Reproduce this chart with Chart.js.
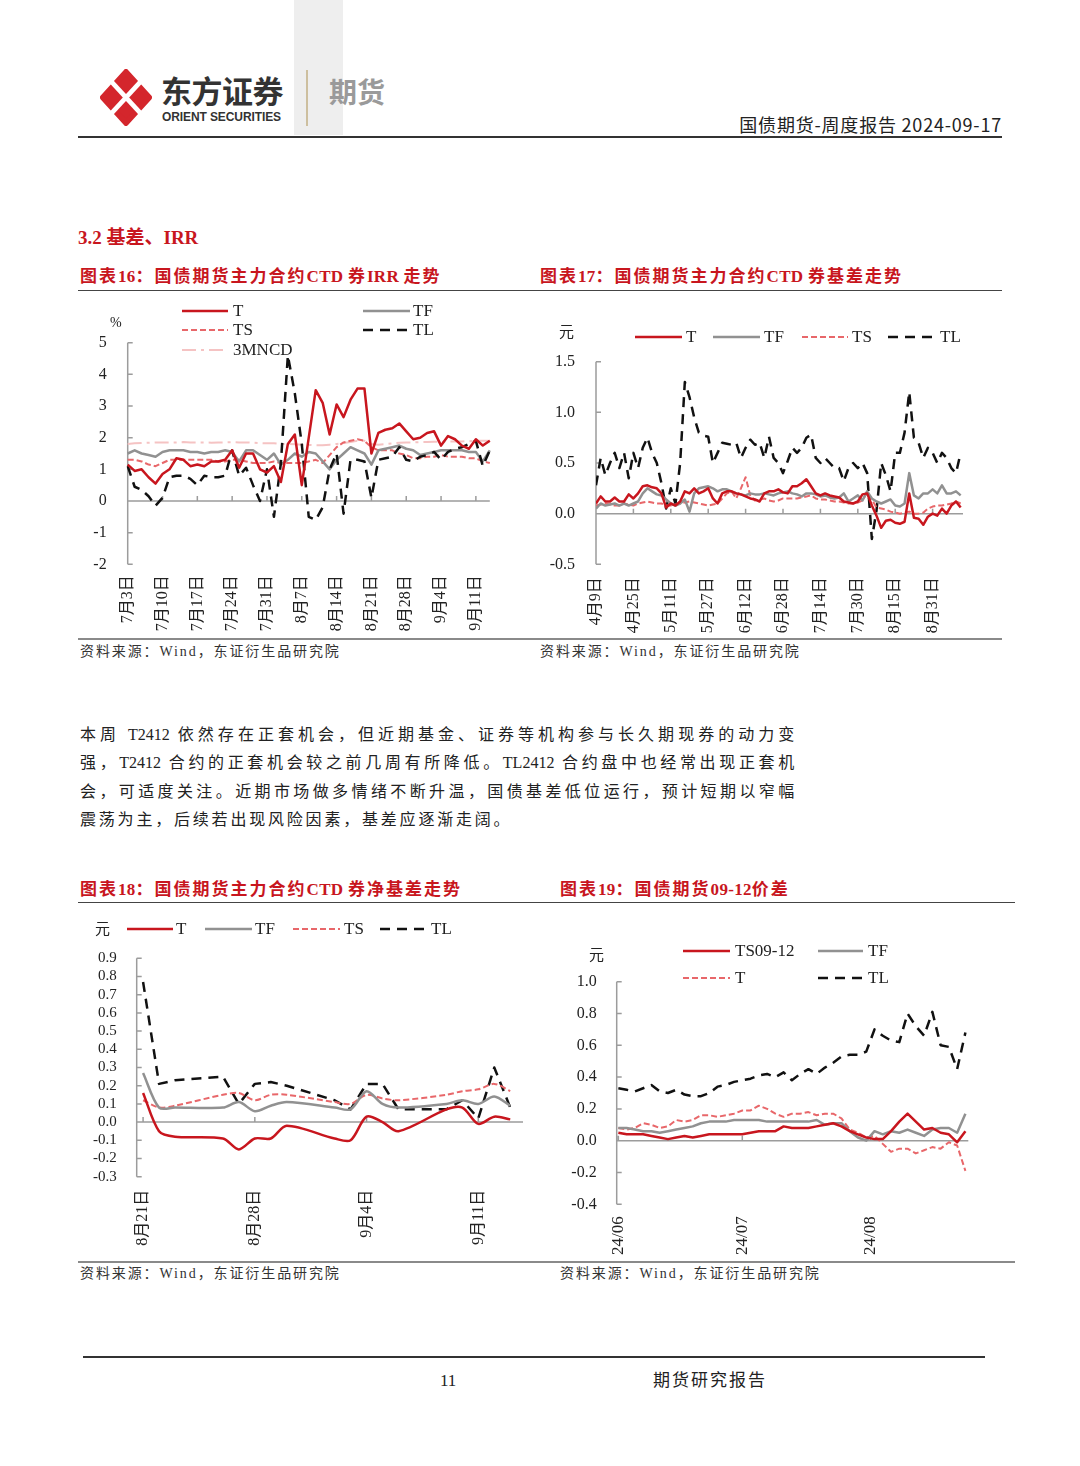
<!DOCTYPE html>
<html><head><meta charset="utf-8">
<script src="https://cdn.jsdelivr.net/npm/chart.js@4.4.1/dist/chart.umd.min.js"></script>
<style>
html,body{margin:0;padding:0;background:#fff;}
#page{position:relative;width:1080px;height:1466px;overflow:hidden;background:#fff;font-family:"Liberation Serif","Noto Sans CJK SC",serif;color:#222;}
.t{position:absolute;white-space:nowrap;}
.ln{position:absolute;}
.red{color:#c8161e;font-weight:700;}
.ttl{font-size:17px;line-height:22px;letter-spacing:2px;}
.ttl .la{letter-spacing:0.3px;}
.src{font-size:14px;line-height:18px;letter-spacing:1.9px;color:#333;}
.para{position:absolute;left:80px;width:717px;font-size:16px;line-height:20px;letter-spacing:2.8px;white-space:nowrap;}
.just{text-align:justify;text-align-last:justify;white-space:normal;}
.la{letter-spacing:0;}
.lg{font-size:17px;line-height:20px;color:#222;}
canvas{position:absolute;}
</style></head>
<body><div id="page">
  <div class="ln" style="left:294px;top:0;width:49px;height:135px;background:#eeeeee"></div>
  <svg style="position:absolute;left:100px;top:69px" width="52" height="57" viewBox="0 0 56 60" preserveAspectRatio="none">
    <polygon points="28,3 53,30 28,57 3,30" fill="#d4262c" stroke="#d4262c" stroke-width="6" stroke-linejoin="round"/>
    <line x1="12" y1="13" x2="44" y2="47" stroke="#fff" stroke-width="5"/>
    <line x1="44" y1="13" x2="12" y2="47" stroke="#fff" stroke-width="5"/>
  </svg>
  <div class="t" style="left:161px;top:73px;font:700 31px/34px 'Noto Sans CJK SC';color:#333;letter-spacing:-0.5px">东方证券</div>
  <div class="t" style="left:162px;top:110px;font:700 12px/14px 'Liberation Sans';color:#333;letter-spacing:-0.1px">ORIENT SECURITIES</div>
  <div class="ln" style="left:306px;top:70px;width:1.5px;height:56px;background:#cdbf9f"></div>
  <div class="t" style="left:329px;top:74px;font:700 28px/34px 'Noto Sans CJK SC';color:#9a9a9a">期货</div>
  <div class="t" style="right:78px;top:113px;font:400 18px/22px 'Noto Sans CJK SC';color:#222;letter-spacing:0.8px">国债期货-周度报告 2024-09-17</div>
  <div class="ln" style="left:78px;top:136px;width:924px;height:1.5px;background:#333"></div>

  <div class="t red" style="left:78px;top:226px;font-size:19px;line-height:24px">3.2 基差、IRR</div>
  <div class="t red ttl" style="left:80px;top:266px">图表<span class="la">16</span>：国债期货主力合约<span class="la">CTD </span>券<span class="la">IRR </span>走势</div>
  <div class="t red ttl" style="left:540px;top:266px">图表<span class="la">17</span>：国债期货主力合约<span class="la">CTD </span>券基差走势</div>
  <div class="ln" style="left:78px;top:290px;width:924px;height:1px;background:#444"></div>

  <canvas id="c16" width="440" height="340" style="left:80px;top:300px"></canvas>
  <canvas id="c17" width="460" height="340" style="left:540px;top:300px"></canvas>
  <div class="t" style="left:110px;top:314px;font-size:14px;line-height:18px">%</div>
  <div class="t" style="left:559px;top:322px;font-size:15px;line-height:20px">元</div>

  <div class="ln" style="left:78px;top:638px;width:924px;height:1.5px;background:#8a8a8a"></div>
  <div class="t src" style="left:80px;top:643px">资料来源：Wind，东证衍生品研究院</div>
  <div class="t src" style="left:540px;top:643px">资料来源：Wind，东证衍生品研究院</div>

  <div class="para just" style="top:725px">本周 <span class="la">T2412</span> 依然存在正套机会，但近期基金、证券等机构参与长久期现券的动力变</div>
  <div class="para just" style="top:753px">强，<span class="la">T2412</span> 合约的正套机会较之前几周有所降低。<span class="la">TL2412</span> 合约盘中也经常出现正套机</div>
  <div class="para just" style="top:782px">会，可适度关注。近期市场做多情绪不断升温，国债基差低位运行，预计短期以窄幅</div>
  <div class="para" style="top:810px">震荡为主，后续若出现风险因素，基差应逐渐走阔。</div>

  <div class="t red ttl" style="left:80px;top:879px">图表<span class="la">18</span>：国债期货主力合约<span class="la">CTD </span>券净基差走势</div>
  <div class="t red ttl" style="left:560px;top:879px">图表<span class="la">19</span>：国债期货<span class="la">09-12</span>价差</div>
  <div class="ln" style="left:78px;top:902px;width:937px;height:1px;background:#444"></div>

  <canvas id="c18" width="450" height="350" style="left:80px;top:910px"></canvas>
  <canvas id="c19" width="460" height="330" style="left:555px;top:930px"></canvas>
  <div class="t" style="left:95px;top:919px;font-size:15px;line-height:20px">元</div>
  <div class="t" style="left:589px;top:945px;font-size:15px;line-height:20px">元</div>

  <div class="ln" style="left:78px;top:1261px;width:937px;height:1.5px;background:#8a8a8a"></div>
  <div class="t src" style="left:80px;top:1265px">资料来源：Wind，东证衍生品研究院</div>
  <div class="t src" style="left:560px;top:1265px">资料来源：Wind，东证衍生品研究院</div>

  <div class="ln" style="left:83px;top:1356px;width:902px;height:1.5px;background:#333"></div>
  <div class="t" style="left:440px;top:1371px;font-size:17px;line-height:20px">11</div>
  <div class="t" style="left:653px;top:1371px;font-size:17px;line-height:20px;letter-spacing:2px">期货研究报告</div>
  <div id="legends"></div>
</div>
<script>
// ---------------- DATA ----------------
// Chart 16: CTD IRR (%)
const labels16 = ["7月3日","7月4日","7月5日","7月8日","7月9日","7月10日","7月11日","7月12日","7月15日","7月16日","7月17日","7月18日","7月19日","7月22日","7月23日","7月24日","7月25日","7月26日","7月29日","7月30日","7月31日","8月1日","8月2日","8月5日","8月6日","8月7日","8月8日","8月9日","8月12日","8月13日","8月14日","8月15日","8月16日","8月19日","8月20日","8月21日","8月22日","8月23日","8月26日","8月27日","8月28日","8月29日","8月30日","9月2日","9月3日","9月4日","9月5日","9月6日","9月9日","9月10日","9月11日","9月12日","9月13日"];
const T16 = [1.15,0.95,1.0,0.75,0.55,0.85,1.0,1.35,1.3,1.1,1.15,1.1,1.25,1.25,1.3,1.6,1.05,1.5,1.5,1.0,0.9,1.1,0.6,1.8,2.1,0.5,2.0,3.5,3.1,2.1,3.05,2.65,3.2,3.55,3.55,1.5,2.15,2.25,2.3,2.45,2.2,1.95,2.0,2.15,2.2,1.75,2.05,1.95,1.75,1.65,1.95,1.75,1.9];
const TF16 = [1.5,1.6,1.5,1.45,1.4,1.55,1.6,1.6,1.6,1.55,1.55,1.5,1.55,1.55,1.6,1.55,1.25,1.6,1.6,1.45,1.3,1.5,1.15,1.3,1.5,1.4,1.55,1.5,1.25,1.0,1.3,1.5,1.7,1.6,1.5,1.15,1.6,1.65,1.7,1.75,1.65,1.6,1.45,1.5,1.55,1.6,1.6,1.6,1.6,1.55,1.55,1.25,1.6];
const TS16 = [1.3,1.3,1.25,1.15,1.1,1.2,1.3,1.3,1.3,1.3,1.3,1.3,1.3,1.25,1.25,1.3,1.3,1.25,1.2,1.2,1.2,1.25,1.2,1.2,1.2,1.2,1.25,1.3,1.2,1.45,1.7,1.85,1.9,1.95,1.9,1.7,1.6,1.6,1.6,1.5,1.45,1.35,1.35,1.4,1.4,1.45,1.4,1.4,1.4,1.35,1.35,1.25,1.2];
const TL16 = [1.1,0.45,0.35,0.15,-0.15,0.1,0.75,0.8,0.8,0.7,0.5,0.8,0.75,0.75,0.8,1.6,0.8,1.05,0.5,0.0,1.0,-0.5,1.2,4.6,3.4,1.8,-0.5,-0.6,-0.2,1.0,1.5,-0.4,1.3,1.3,1.25,0.1,1.3,1.35,1.4,1.7,1.3,1.25,1.4,1.45,1.55,1.3,1.55,1.65,1.7,1.8,1.9,1.1,1.6];
const NCD16 = [1.8,1.82,1.83,1.84,1.85,1.85,1.85,1.85,1.86,1.85,1.85,1.85,1.84,1.85,1.85,1.86,1.85,1.85,1.84,1.83,1.82,1.82,1.8,1.8,1.79,1.78,1.77,1.76,1.76,1.78,1.8,1.83,1.86,1.9,1.9,1.8,1.78,1.8,1.82,1.84,1.85,1.85,1.86,1.86,1.87,1.87,1.88,1.88,1.88,1.89,1.9,1.9,1.9];
const yTicks16 = {min:-2, max:5, step:1};

// Chart 17: CTD basis (元), x = days since 4月9日
const days17 = [0,2,4,6,8,10,12,14,16,18,20,22,24,26,28,30,32,34,36,38,40,42,44,46,48,50,52,54,56,58,60,62,64,66,68,70,72,74,76,78,80,82,84,86,88,90,92,94,96,98,100,102,104,106,108,110,112,114,116,118,120,122,124,126,128,130,132,134,136,138,140,142,144,146,148,150,152,154,156];
const T17 = [0.1,0.17,0.12,0.12,0.16,0.12,0.12,0.19,0.15,0.2,0.27,0.28,0.26,0.25,0.2,0.06,0.1,0.08,0.12,0.22,0.2,0.25,0.2,0.22,0.25,0.15,0.1,0.2,0.22,0.22,0.2,0.19,0.17,0.15,0.14,0.12,0.2,0.22,0.22,0.24,0.21,0.2,0.27,0.27,0.3,0.34,0.27,0.2,0.18,0.2,0.18,0.17,0.16,0.12,0.11,0.1,0.12,0.19,0.2,0.08,-0.02,-0.14,-0.07,-0.06,-0.09,-0.1,-0.08,0.2,-0.04,-0.05,-0.11,-0.03,0.0,-0.02,0.05,0.0,0.08,0.12,0.06];
const TF17 = [0.05,0.1,0.08,0.09,0.1,0.08,0.1,0.08,0.1,0.12,0.2,0.25,0.22,0.19,0.18,0.14,0.1,0.08,0.1,0.14,0.02,0.2,0.25,0.26,0.27,0.25,0.22,0.24,0.24,0.22,0.2,0.19,0.18,0.2,0.19,0.19,0.2,0.19,0.18,0.2,0.21,0.22,0.2,0.19,0.17,0.2,0.2,0.19,0.17,0.18,0.16,0.15,0.16,0.2,0.12,0.15,0.18,0.13,0.22,0.15,0.12,0.1,0.12,0.14,0.08,0.07,0.1,0.4,0.18,0.15,0.2,0.2,0.24,0.2,0.28,0.2,0.2,0.22,0.18];
const TS17 = [0.08,0.09,0.1,0.09,0.08,0.08,0.1,0.09,0.08,0.1,0.11,0.12,0.11,0.1,0.1,0.08,0.08,0.09,0.1,0.11,0.12,0.11,0.1,0.09,0.08,0.09,0.1,0.15,0.2,0.22,0.15,0.25,0.36,0.18,0.13,0.14,0.15,0.13,0.12,0.13,0.15,0.15,0.15,0.15,0.16,0.17,0.18,0.15,0.14,0.14,0.13,0.12,0.12,0.11,0.1,0.1,0.11,0.13,0.21,0.14,0.06,0.05,0.04,0.02,0.01,0.0,0.01,0.02,0.0,0.0,0.01,0.05,0.07,0.08,0.08,0.09,0.1,0.12,0.1];
const TL17 = [0.28,0.55,0.38,0.5,0.6,0.45,0.6,0.35,0.6,0.45,0.65,0.75,0.6,0.5,0.3,0.05,0.25,0.1,0.5,1.3,1.15,0.95,0.8,0.77,0.76,0.5,0.6,0.7,0.69,0.68,0.7,0.55,0.65,0.73,0.68,0.7,0.55,0.76,0.55,0.5,0.4,0.52,0.65,0.6,0.65,0.75,0.78,0.55,0.5,0.55,0.5,0.45,0.45,0.32,0.45,0.5,0.45,0.5,0.4,-0.25,0.03,0.5,0.38,0.22,0.6,0.6,0.8,1.2,0.75,0.7,0.55,0.65,0.6,0.5,0.6,0.55,0.45,0.4,0.6];
const tickDays17 = [0,16,32,48,64,80,96,112,128,144];
const tickLabels17 = ["4月9日","4月25日","5月11日","5月27日","6月12日","6月28日","7月14日","7月30日","8月15日","8月31日"];

// Chart 18: CTD net basis (元), x = days since 8月21日
const days18 = [0,1,2,5,6,7,8,9,12,13,14,15,16,19,20,21,22,23];
const T18 = [0.16,-0.05,-0.08,-0.09,-0.15,-0.09,-0.09,-0.02,-0.09,-0.10,0.03,0.0,-0.05,0.07,0.08,-0.01,0.03,0.015];
const TF18 = [0.27,0.08,0.08,0.08,0.11,0.06,0.09,0.11,0.08,0.07,0.17,0.10,0.08,0.10,0.12,0.10,0.14,0.09];
const TS18 = [0.12,0.08,0.09,0.15,0.16,0.12,0.15,0.15,0.11,0.10,0.15,0.13,0.12,0.15,0.17,0.18,0.21,0.17];
const TL18 = [0.77,0.21,0.23,0.25,0.10,0.21,0.22,0.20,0.12,0.07,0.21,0.21,0.07,0.07,0.12,0.02,0.30,0.08];
const tickDays18 = [0,7,14,21];
const tickLabels18 = ["8月21日","8月28日","9月4日","9月11日"];

// Chart 19: 09-12 calendar spread (元), x = days since 24/06
const days19 = [0,2,4,6,8,10,12,14,16,18,20,22,24,26,28,30,32,34,36,38,40,42,44,46,48,50,52,54,56,58,60,62,64,66,68,70,72,74,76,78,80,82,84];
const TS0912_19 = [0.05,0.04,0.04,0.04,0.03,0.02,0.01,0.02,0.03,0.02,0.03,0.04,0.04,0.04,0.04,0.04,0.05,0.06,0.06,0.06,0.09,0.08,0.08,0.08,0.09,0.10,0.11,0.09,0.06,0.04,0.02,0.01,0.01,0.06,0.12,0.17,0.12,0.07,0.08,0.05,0.04,-0.01,0.06];
const TF19 = [0.08,0.08,0.07,0.06,0.06,0.05,0.06,0.07,0.08,0.09,0.11,0.12,0.12,0.12,0.13,0.13,0.13,0.13,0.12,0.12,0.12,0.12,0.12,0.12,0.13,0.10,0.11,0.11,0.06,0.02,0.00,0.06,0.04,0.06,0.05,0.07,0.05,0.03,0.07,0.08,0.08,0.05,0.17];
const T19 = [0.08,0.07,0.08,0.11,0.10,0.08,0.09,0.13,0.12,0.13,0.16,0.16,0.15,0.16,0.17,0.19,0.19,0.22,0.20,0.17,0.15,0.17,0.17,0.18,0.16,0.17,0.17,0.14,0.07,0.05,0.02,0.03,-0.02,-0.07,-0.05,-0.05,-0.08,-0.06,-0.04,-0.05,-0.01,-0.03,-0.19];
const TL19 = [0.33,0.32,0.31,0.33,0.35,0.31,0.30,0.32,0.29,0.28,0.28,0.30,0.34,0.35,0.37,0.38,0.39,0.41,0.42,0.40,0.43,0.38,0.42,0.45,0.42,0.46,0.49,0.53,0.54,0.54,0.56,0.70,0.66,0.63,0.62,0.80,0.72,0.66,0.81,0.60,0.59,0.45,0.68];
const tickDays19 = [0,30,61];
const tickLabels19 = ["24/06","24/07","24/08"];

// ---------------- STYLES ----------------
const FONT = '"Liberation Serif","Noto Sans CJK SC",serif';
const S = {
  red:   {color:'#c8161e', dash:[],        width:2.5},
  gray:  {color:'#919191', dash:[],        width:2.5},
  pink:  {color:'#e8676a', dash:[6,3],     width:2},
  black: {color:'#111111', dash:[10,7],    width:2.5},
  ncd:   {color:'#f5c3c3', dash:[14,5,3,5],width:2}
};
Chart.defaults.font.family = FONT;
Chart.defaults.color = '#222';

const axesPlugin = {
  id: 'axesPlugin',
  beforeDatasetsDraw(chart) {
    const {ctx, chartArea: a} = chart;
    const x = chart.scales.x, y = chart.scales.y;
    ctx.save();
    ctx.strokeStyle = '#9c9c9c';
    ctx.lineWidth = 1.5;
    ctx.beginPath();
    ctx.moveTo(a.left, a.top); ctx.lineTo(a.left, a.bottom);
    y.ticks.forEach(t => { const p = y.getPixelForValue(t.value); ctx.moveTo(a.left, p); ctx.lineTo(a.left + 5, p); });
    const z = y.getPixelForValue(0);
    ctx.moveTo(a.left, z); ctx.lineTo(a.right, z);
    x.ticks.forEach((t, i) => {
      if (t.label === '' || t.label === undefined) return;
      const p = x.getPixelForTick(i);
      ctx.moveTo(p, z); ctx.lineTo(p, z - 5);
    });
    ctx.stroke();
    ctx.restore();
  }
};

function ds(label, data, st, tension) {
  return {label, data, borderColor: st.color, borderWidth: st.width, borderDash: st.dash,
          pointRadius: 0, fill: false, tension: tension || 0, borderJoinStyle: 'round', borderCapStyle: 'butt'};
}
function xy(xs, ys) { return xs.map((v, i) => ({x: v, y: ys[i]})); }
function fmt1(v) { return (Math.abs(v) < 1e-9 ? 0 : v).toFixed(1); }

function yScale(min, max, step, size, pad, width, fmt) {
  return {type:'linear', min, max, border:{display:false}, grid:{display:false, drawTicks:false},
    ticks:{stepSize:step, autoSkip:false, padding:pad, color:'#222', font:{size, family:FONT}, callback: fmt},
    afterFit: s => { s.width = width; }};
}
function xLinear(min, max, tickDays, tickLabels, size, pad, height) {
  return {type:'linear', min, max, border:{display:false}, grid:{display:false, drawTicks:false},
    afterBuildTicks: s => { s.ticks = tickDays.map(v => ({value: v})); },
    ticks:{autoSkip:false, maxRotation:90, minRotation:90, padding:pad, color:'#222', font:{size, family:FONT},
      callback: (v, i) => tickLabels[i]},
    afterFit: s => { s.height = height; }};
}
function make(id, datasets, scales, padding, labels) {
  const data = {datasets};
  if (labels) data.labels = labels;
  return new Chart(document.getElementById(id), {
    type: 'line', data,
    options: {responsive:false, animation:false, layout:{padding},
      plugins:{legend:{display:false}, tooltip:{enabled:false}},
      scales},
    plugins: [axesPlugin]
  });
}

// Chart 16
make('c16', [
  ds('T', T16, S.red), ds('TL', TL16, S.black), ds('TF', TF16, S.gray), ds('TS', TS16, S.pink), ds('3MNCD', NCD16, S.ncd)
], {
  x: {type:'category', offset:false, border:{display:false}, grid:{display:false, drawTicks:false},
      ticks:{autoSkip:false, maxRotation:90, minRotation:90, padding:11, color:'#222', font:{size:16, family:FONT},
        callback: (v, i) => (i % 5 === 0 ? labels16[v] : '')},
      afterFit: s => { s.height = 75.7; }},
  y: yScale(yTicks16.min, yTicks16.max, yTicks16.step, 16, 21, 47.7, v => String(v))
}, {top:42.7, right:8, left:0, bottom:0}, labels16);

// Chart 17
make('c17', [
  ds('T', xy(days17, T17), S.red), ds('TF', xy(days17, TF17), S.gray), ds('TS', xy(days17, TS17), S.pink), ds('TL', xy(days17, TL17), S.black)
], {
  x: xLinear(0, 157, tickDays17, tickLabels17, 16, 13, 75.7),
  y: yScale(-0.5, 1.5, 0.5, 16, 21, 56, fmt1)
}, {top:61.7, right:37, left:0, bottom:0});

// Chart 18
make('c18', [
  ds('T', xy(days18, T18), S.red, 0.3), ds('TF', xy(days18, TF18), S.gray, 0.3), ds('TS', xy(days18, TS18), S.pink, 0.3), ds('TL', xy(days18, TL18), S.black)
], {
  x: xLinear(-0.4, 23.8, tickDays18, tickLabels18, 16, 13, 83.3),
  y: yScale(-0.3, 0.9, 0.1, 15, 20, 56.7, fmt1)
}, {top:48.3, right:7, left:0, bottom:0});

// Chart 19
make('c19', [
  ds('TS09-12', xy(days19, TS0912_19), S.red), ds('TF', xy(days19, TF19), S.gray), ds('T', xy(days19, T19), S.pink), ds('TL', xy(days19, TL19), S.black)
], {
  x: xLinear(-0.4, 84.7, tickDays19, tickLabels19, 17, 12, 55.7),
  y: yScale(-0.4, 1.0, 0.2, 16, 20, 61.7, fmt1)
}, {top:51.7, right:46.7, left:0, bottom:0});

// ---------------- LEGENDS ----------------
const legendItems = [
  {label:'T', st:S.red, x:182, len:46, tx:233, y:311},
  {label:'TF', st:S.gray, x:363, len:47, tx:413, y:311},
  {label:'TS', st:S.pink, x:182, len:46, tx:233, y:330},
  {label:'TL', st:S.black, x:363, len:47, tx:413, y:330},
  {label:'3MNCD', st:S.ncd, x:182, len:42, tx:233, y:350},
  {label:'T', st:S.red, x:635, len:47, tx:686, y:337},
  {label:'TF', st:S.gray, x:713, len:47, tx:764, y:337},
  {label:'TS', st:S.pink, x:802, len:46, tx:852, y:337},
  {label:'TL', st:S.black, x:888, len:47, tx:940, y:337},
  {label:'T', st:S.red, x:127, len:46, tx:176, y:929},
  {label:'TF', st:S.gray, x:205, len:47, tx:255, y:929},
  {label:'TS', st:S.pink, x:293, len:47, tx:344, y:929},
  {label:'TL', st:S.black, x:380, len:47, tx:431, y:929},
  {label:'TS09-12', st:S.red, x:683, len:47, tx:735, y:951},
  {label:'TF', st:S.gray, x:818, len:45, tx:868, y:951},
  {label:'T', st:S.pink, x:683, len:47, tx:735, y:978},
  {label:'TL', st:S.black, x:818, len:45, tx:868, y:978}
];
const lg = document.getElementById('legends');
legendItems.forEach(it => {
  const st = it.st;
  lg.insertAdjacentHTML('beforeend',
    '<svg style="position:absolute;left:' + it.x + 'px;top:' + (it.y - 4) + 'px" width="' + it.len + '" height="8">' +
    '<line x1="0" y1="4" x2="' + it.len + '" y2="4" stroke="' + st.color + '" stroke-width="' + st.width + '"' +
    (st.dash.length ? ' stroke-dasharray="' + st.dash.join(' ') + '"' : '') + '/></svg>' +
    '<div class="t lg" style="left:' + it.tx + 'px;top:' + (it.y - 10) + 'px">' + it.label + '</div>');
});
</script>
</body></html>
